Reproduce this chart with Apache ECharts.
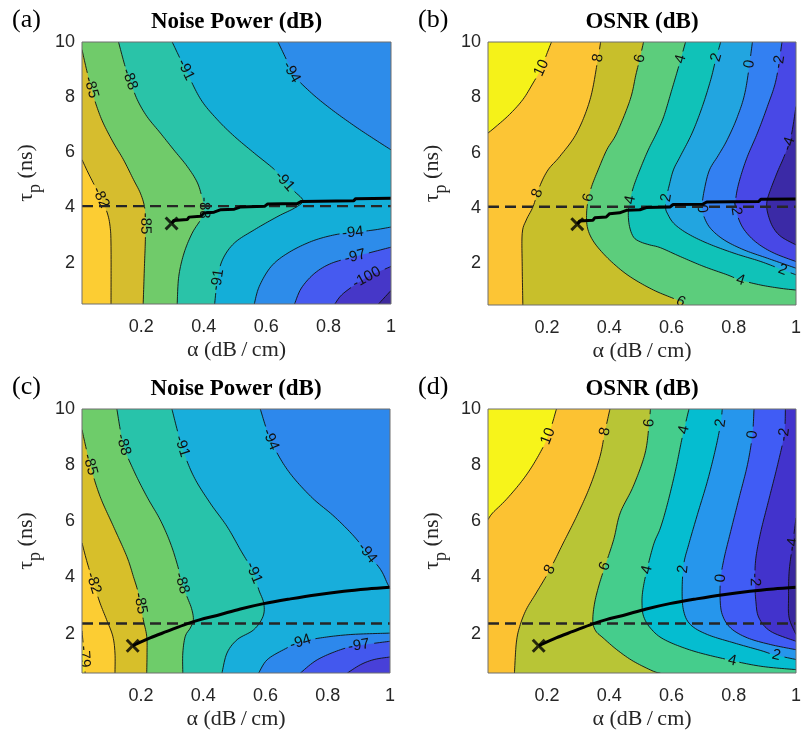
<!DOCTYPE html>
<html><head><meta charset="utf-8">
<script src="https://cdn.jsdelivr.net/npm/echarts@6/dist/echarts.min.js"></script>
<style>html,body{margin:0;padding:0;background:#fff}#c{width:805px;height:739px}</style>
</head><body><div id="c"></div>
<script>
// ---------------- axes ----------------
const alphaRange = [0.01, 1];
const alphaTicks = [0.2, 0.4, 0.6, 0.8, 1];
const tauTicks = [2, 4, 6, 8, 10];
const tauRangeAB = [0.5, 10];
const tauRangeCD = [0.6, 10];

// ---------------- (a) Noise Power (dB) : contour lines [alpha, tau] ----------------
const levelsA = [-103, -100, -97, -94, -91, -88, -85, -82];
const a_m103 = [[0.960,0.5],[0.982,0.77],[1.0,0.99]];
const a_m100 = [[0.820,0.5],[0.842,0.83],[0.885,1.20],[0.928,1.50],[0.971,1.72],[1.0,1.86]];
const a_m97 = [[0.691,0.5],[0.713,1.08],[0.756,1.62],[0.810,1.98],[0.885,2.22],[0.949,2.41],[1.0,2.56]];
const a_m94_up = [[0.638,10],[0.670,9.24],[0.686,8.82],[0.745,8.15],[0.810,7.55],[0.885,6.94],[0.949,6.46],[1.0,6.09]];
const a_m94_lo = [[1.0,3.29],[0.949,3.19],[0.885,3.10],[0.820,3.01],[0.745,2.77],[0.670,2.35],[0.616,1.86],[0.578,1.14],[0.562,0.5]];
const a_m91 = [[0.299,10],[0.326,9.36],[0.347,8.88],[0.391,7.91],[0.444,7.18],[0.498,6.58],[0.562,5.97],[0.627,5.37],[0.659,4.95],[0.691,4.58],[0.718,4.24],[0.691,3.98],[0.638,3.68],[0.562,3.19],[0.498,2.71],[0.460,2.10],[0.444,1.38],[0.435,0.5]];
const a_m88 = [[0.127,10],[0.148,9.12],[0.165,8.57],[0.187,7.91],[0.218,7.30],[0.261,6.70],[0.304,6.09],[0.347,5.49],[0.380,4.89],[0.396,4.28],[0.401,3.92],[0.390,3.56],[0.363,3.07],[0.337,2.35],[0.320,1.50],[0.315,0.5]];
const a_m85 = [[0.01,9.72],[0.027,8.88],[0.041,8.27],[0.057,7.67],[0.078,7.06],[0.111,6.34],[0.143,5.73],[0.175,5.01],[0.197,4.52],[0.210,4.04],[0.213,3.56],[0.213,2.83],[0.210,1.86],[0.206,0.5]];
const a_m82 = [[0.01,5.73],[0.030,5.25],[0.052,4.76],[0.073,4.28],[0.091,3.80],[0.100,3.31],[0.103,2.59],[0.103,0.5]];
const labelsA = [[0.035,8.33,'-85'],[0.159,8.63,'-88'],[0.342,9.0,'-91'],[0.681,8.88,'-94'],[0.052,4.28,'-82'],[0.213,3.40,'-85'],[0.398,3.98,'-88'],[0.654,4.85,'-91'],[0.880,3.05,'-94'],[0.885,2.20,'-97'],[0.92,1.52,'-100'],[0.449,1.38,'-91']];

// ---------------- (b) OSNR (dB) ----------------
const levelsB = [-4, -2, 0, 2, 4, 6, 8, 10];
const b_m4 = [[1.0,7.67],[0.984,6.59],[0.962,5.87],[0.940,5.30],[0.914,4.54],[0.906,4.18],[0.909,3.82],[0.925,3.33],[0.952,2.97],[1.0,2.67]];
const b_m2 = [[0.955,10],[0.936,8.64],[0.908,7.67],[0.876,6.71],[0.844,5.87],[0.822,5.14],[0.809,4.54],[0.806,4.06],[0.817,3.57],[0.838,3.15],[0.876,2.73],[0.930,2.37],[1.0,2.07]];
const b_0 = [[0.860,10],[0.838,8.28],[0.812,7.31],[0.779,6.47],[0.750,5.90],[0.722,5.38],[0.706,4.70],[0.698,4.06],[0.704,3.70],[0.725,3.27],[0.769,2.85],[0.833,2.49],[0.908,2.19],[1.0,1.83]];
const b_2 = [[0.758,10],[0.742,9.36],[0.726,8.64],[0.699,7.67],[0.666,6.71],[0.628,5.87],[0.606,5.38],[0.592,4.8],[0.582,4.30],[0.581,4.0],[0.586,3.82],[0.607,3.45],[0.650,3.09],[0.715,2.73],[0.801,2.37],[0.887,2.07],[0.957,1.77],[1.0,1.59]];
const b_4 = [[0.645,10],[0.623,9.12],[0.601,8.28],[0.575,7.31],[0.552,6.71],[0.525,6.1],[0.498,5.38],[0.478,4.78],[0.467,4.30],[0.461,3.82],[0.465,3.33],[0.478,2.95],[0.500,2.78],[0.530,2.67],[0.564,2.57],[0.628,2.25],[0.704,1.89],[0.779,1.59],[0.822,1.40],[0.887,1.22],[0.952,1.10],[1.0,1.04]];
const b_6 = [[0.510,10],[0.498,9.4],[0.485,8.8],[0.467,7.92],[0.424,6.71],[0.392,6.11],[0.364,5.38],[0.343,4.78],[0.332,4.30],[0.327,3.82],[0.329,3.33],[0.343,2.91],[0.370,2.49],[0.413,2.0],[0.467,1.52],[0.542,1.04],[0.618,0.68],[0.645,0.5]];
const b_8 = [[0.372,10],[0.362,9.3],[0.338,7.92],[0.295,6.71],[0.241,5.87],[0.203,5.38],[0.176,4.78],[0.155,4.06],[0.133,3.57],[0.120,3.09],[0.120,1.89],[0.122,0.5]];
const b_10 = [[0.214,10],[0.198,9.54],[0.182,9.06],[0.155,8.52],[0.122,7.92],[0.079,7.38],[0.036,6.95],[0.01,6.71]];
const labelsB = [[0.187,9.06,'10'],[0.370,9.42,'8'],[0.505,9.36,'6'],[0.628,9.36,'4'],[0.742,9.48,'2'],[0.848,9.2,'0'],[0.948,9.3,'-2'],[0.978,6.35,'-4'],[0.168,4.54,'8'],[0.334,4.35,'6'],[0.465,4.30,'4'],[0.582,4.36,'2'],[0.700,4.0,'0'],[0.808,3.94,'-2'],[0.955,1.72,'2'],[0.822,1.38,'4'],[0.625,0.62,'6']];

// ---------------- (c) Noise Power (dB) ----------------
const levelsC = [-100, -97, -94, -91, -88, -85, -82, -79];
const c_m100 = [[0.863,0.6],[0.906,0.90],[0.949,1.08],[1.0,1.17]];
const c_m97 = [[0.712,0.6],[0.766,1.07],[0.841,1.43],[0.900,1.58],[1.0,1.73]];
const c_m94_up = [[0.583,10],[0.616,8.91],[0.670,7.84],[0.745,6.89],[0.820,6.18],[0.884,5.47],[0.927,4.87],[0.970,4.28],[0.991,3.80],[1.0,3.62]];
const c_m94_lo = [[1.0,2.02],[0.874,1.97],[0.777,1.85],[0.712,1.70],[0.658,1.43],[0.605,1.07],[0.578,0.6]];
const c_m91 = [[0.299,10],[0.331,8.67],[0.369,7.60],[0.422,6.65],[0.476,5.82],[0.519,4.99],[0.562,4.16],[0.578,3.57],[0.594,3.09],[0.592,2.62],[0.562,2.14],[0.509,1.79],[0.476,1.31],[0.460,0.6]];
const c_m88 = [[0.122,10],[0.143,8.73],[0.175,7.84],[0.218,6.89],[0.261,6.06],[0.294,5.23],[0.318,4.4],[0.331,3.80],[0.347,3.33],[0.362,2.90],[0.368,2.50],[0.358,2.20],[0.342,1.91],[0.334,1.31],[0.334,0.6]];
const c_m85 = [[0.01,9.26],[0.036,8.02],[0.068,6.89],[0.111,5.82],[0.154,4.75],[0.175,4.04],[0.192,3.4],[0.207,2.50],[0.218,1.91],[0.219,1.25],[0.218,0.6]];
const c_m82 = [[0.01,5.23],[0.027,4.52],[0.047,3.80],[0.068,3.09],[0.089,2.50],[0.109,1.91],[0.116,1.31],[0.116,0.6]];
const c_m79 = [[0.01,2.1],[0.014,1.6],[0.018,1.1],[0.02,0.6]];
const labelsC = [[0.036,8.02,'-85'],[0.143,8.73,'-88'],[0.331,8.67,'-91'],[0.616,8.91,'-94'],[0.047,3.80,'-82'],[0.197,3.09,'-85'],[0.331,3.80,'-88'],[0.562,4.16,'-91'],[0.927,4.87,'-94'],[0.712,1.70,'-94'],[0.900,1.58,'-97'],[0.016,1.2,'-79']];

// ---------------- (d) OSNR (dB) ----------------
const levelsD = [-4, -2, 0, 2, 4, 6, 8, 10];
const d_m4 = [[1.0,6.12],[0.989,5.17],[0.978,4.22],[0.976,3.27],[0.978,2.56],[1.0,1.97]];
const d_m2 = [[0.966,10],[0.962,9.09],[0.941,8.02],[0.914,6.83],[0.887,5.64],[0.871,4.69],[0.868,3.92],[0.871,3.15],[0.881,2.56],[0.919,2.08],[1.0,1.73]];
const d_0 = [[0.865,10],[0.860,9.09],[0.844,8.02],[0.817,6.83],[0.790,5.64],[0.769,4.69],[0.758,3.98],[0.756,3.27],[0.763,2.68],[0.790,2.20],[0.844,1.85],[0.919,1.61],[1.0,1.43]];
const d_2 = [[0.763,10],[0.758,9.5],[0.742,8.61],[0.715,7.42],[0.683,6.24],[0.655,5.17],[0.639,4.46],[0.634,3.51],[0.639,2.80],[0.661,2.32],[0.715,1.97],[0.801,1.67],[0.887,1.40],[0.930,1.25],[1.0,1.08]];
const d_4 = [[0.656,10],[0.634,8.97],[0.612,7.78],[0.586,6.59],[0.564,5.76],[0.543,5.2],[0.521,4.28],[0.508,3.57],[0.505,3.09],[0.510,2.62],[0.532,2.20],[0.575,1.80],[0.665,1.40],[0.779,1.08],[0.887,0.84],[1.0,0.72]];
const d_6 = [[0.532,10],[0.528,9.5],[0.515,8.43],[0.477,7.25],[0.435,6.30],[0.414,5.35],[0.386,4.40],[0.366,3.70],[0.352,3.05],[0.347,2.45],[0.356,2.10],[0.380,1.85],[0.424,1.43],[0.477,1.02],[0.542,0.66],[0.564,0.6]];
const d_8 = [[0.402,10],[0.386,9.20],[0.370,8.31],[0.338,7.25],[0.295,6.18],[0.252,5.23],[0.209,4.28],[0.165,3.45],[0.133,2.86],[0.112,2.26],[0.101,1.67],[0.095,0.6]];
const d_10 = [[0.230,10],[0.203,9.03],[0.165,8.20],[0.122,7.48],[0.068,6.77],[0.025,6.30],[0.01,6.06]];
const labelsD = [[0.203,9.03,'10'],[0.386,9.20,'8'],[0.528,9.5,'6'],[0.645,9.26,'4'],[0.758,9.5,'2'],[0.860,9.1,'0'],[0.962,9.1,'-2'],[0.99,5.2,'-4'],[0.209,4.28,'8'],[0.386,4.40,'6'],[0.521,4.28,'4'],[0.639,4.28,'2'],[0.758,3.98,'0'],[0.869,3.92,'-2'],[0.795,1.0,'4'],[0.935,1.22,'2']];

// ---------------- optimum paths, markers, reference lines ----------------
const optPathAB = [[0.297,3.42],[0.304,3.53],[0.347,3.56],[0.353,3.65],[0.390,3.68],[0.401,3.80],[0.433,3.83],[0.455,3.92],[0.498,3.94],[0.519,4.02],[0.595,4.04],[0.605,4.13],[0.700,4.14],[0.713,4.22],[0.880,4.24],[0.887,4.32],[1.0,4.33]];
const optPathCD = [[0.173,1.57],[0.229,1.85],[0.283,2.08],[0.347,2.35],[0.390,2.50],[0.444,2.65],[0.519,2.88],[0.594,3.07],[0.680,3.24],[0.766,3.39],[0.852,3.51],[0.927,3.59],[1.0,3.65]];
const markerAB = [0.297, 3.42];
const markerCD = [0.173, 1.57];
const dashTauAB = 4.05;
const dashTauCD = 2.36;

// ---------------- styling (kept apart from data) ----------------
const COLORS_A = ['#3e2a9e','#4637c8','#465af0','#2d8cea','#14aed8','#2ac3a8','#70cb6a','#d6bd2e','#fccd33'];
const COLORS_B = ['#3b2aa6','#4848e6','#3380f2','#22a5e0','#10c2b8','#5ccd7c','#c8bf2b','#fcc535','#f5f219'];
const COLORS_C = ['#4840d8','#4358ee','#2d88ec','#18aedb','#28c3aa','#6ecc6a','#d7bf2a','#fccd33','#f6e52a'];
const COLORS_D = ['#38279e','#4233cc','#405cf5','#2696ec','#05bdd0','#45cd8c','#b8c536','#fcc232','#f7f41a'];
const SANS = '"Liberation Sans", Arial, sans-serif';
const SERIF = '"Liberation Serif", "Times New Roman", serif';

const panels = [
  {tau: tauRangeAB, levels: levelsA, contours: [[a_m103],[a_m100],[a_m97],[a_m94_up,a_m94_lo],[a_m91],[a_m88],[a_m85],[a_m82]], labels: labelsA, colors: COLORS_A, peak: [0.03,0.6], path: optPathAB, smooth: false, marker: markerAB, dash: dashTauAB, title: 'Noise Power (dB)', tag: '(a)'},
  {tau: tauRangeAB, levels: levelsB, contours: [[b_m4],[b_m2],[b_0],[b_2],[b_4],[b_6],[b_8],[b_10]], labels: labelsB, colors: COLORS_B, peak: [0.02,9.9], path: optPathAB, smooth: false, marker: markerAB, dash: dashTauAB, title: 'OSNR (dB)', tag: '(b)'},
  {tau: tauRangeCD, levels: levelsC, contours: [[c_m100],[c_m97],[c_m94_up,c_m94_lo],[c_m91],[c_m88],[c_m85],[c_m82],[c_m79]], labels: labelsC, colors: COLORS_C, peak: [0.012,0.65], path: optPathCD, smooth: 0.35, marker: markerCD, dash: dashTauCD, title: 'Noise Power (dB)', tag: '(c)'},
  {tau: tauRangeCD, levels: levelsD, contours: [[d_m4],[d_m2],[d_0],[d_2],[d_4],[d_6],[d_8],[d_10]], labels: labelsD, colors: COLORS_D, peak: [0.02,9.9], path: optPathCD, smooth: 0.35, marker: markerCD, dash: dashTauCD, title: 'OSNR (dB)', tag: '(d)'}
];
const grids = [
  {left: 82, top: 42, width: 309, height: 262},
  {left: 488, top: 42, width: 308, height: 263},
  {left: 82, top: 409, width: 308, height: 264},
  {left: 488, top: 409, width: 308, height: 264}
];

// ---------------- helpers ----------------
function densify(P) {
  if (P.length < 3) return P.map(p => p.slice());
  const out = [], n = P.length;
  for (let i = 0; i < n - 1; i++) {
    const p0 = P[Math.max(i-1,0)], p1 = P[i], p2 = P[i+1], p3 = P[Math.min(i+2,n-1)];
    const len = Math.hypot(p2[0]-p1[0], p2[1]-p1[1]);
    const m = Math.max(2, Math.ceil(len / 2.5));
    for (let s = 0; s < m; s++) {
      const t = s / m, t2 = t*t, t3 = t2*t;
      out.push([0,1].map(j => 0.5*((2*p1[j]) + (-p0[j]+p2[j])*t + (2*p0[j]-5*p1[j]+4*p2[j]-p3[j])*t2 + (-p0[j]+3*p1[j]-3*p2[j]+p3[j])*t3)));
    }
  }
  out.push(P[n-1].slice());
  return out;
}
function perim(p, b) {
  const W = b.x1 - b.x0, H = b.y1 - b.y0;
  const d = [Math.abs(p[1]-b.y0)/H, Math.abs(p[0]-b.x1)/W, Math.abs(p[1]-b.y1)/H, Math.abs(p[0]-b.x0)/W];
  const m = Math.min.apply(null, d);
  if (m === d[0]) return (p[0]-b.x0)/W;
  if (m === d[1]) return 1 + (p[1]-b.y0)/H;
  if (m === d[2]) return 2 + (b.x1-p[0])/W;
  return 3 + (b.y1-p[1])/H;
}
function walk(sa, sb, dir) {
  const out = [];
  if (dir > 0) { let t = sb; if (t <= sa) t += 4; for (let c = Math.floor(sa)+1; c < t; c++) out.push(c % 4); }
  else { let t = sb; if (t >= sa) t -= 4; for (let c = Math.ceil(sa)-1; c > t; c--) out.push(((c % 4)+4) % 4); }
  return out;
}
function inside(pt, poly) {
  let c = false;
  for (let i = 0, j = poly.length-1; i < poly.length; j = i++) {
    const xi = poly[i][0], yi = poly[i][1], xj = poly[j][0], yj = poly[j][1];
    if (((yi > pt[1]) !== (yj > pt[1])) && (pt[0] < (xj-xi)*(pt[1]-yi)/(yj-yi) + xi)) c = !c;
  }
  return c;
}
const LABEL_PX = 15;
function textWidth(s) { let w = 0; for (const ch of s) w += (ch === '-' ? 0.333 : 0.556) * LABEL_PX; return w; }

function makeRender(P) {
  return function (params, api) {
    const b = {x0: alphaRange[0], x1: alphaRange[1], y0: P.tau[0], y1: P.tau[1]};
    const corners = [[b.x0,b.y0],[b.x1,b.y0],[b.x1,b.y1],[b.x0,b.y1]];
    const px = d => api.coord(d);
    const kids = [];
    kids.push({type: 'polygon', shape: {points: corners.map(px)}, style: {fill: P.colors[0]}});
    const dense = P.contours.map(segs => segs.map(s => densify(s.map(px))));
    P.contours.forEach((segs, k) => {
      const raw = [].concat(...segs);
      const sEnd = perim(raw[raw.length-1], b), sStart = perim(raw[0], b);
      let cs = walk(sEnd, sStart, -1);
      if (!inside(P.peak, raw.concat(cs.map(c => corners[c])))) cs = walk(sEnd, sStart, 1);
      const pts = [].concat(...dense[k], cs.map(c => px(corners[c])));
      kids.push({type: 'polygon', shape: {points: pts}, style: {fill: P.colors[k+1]}});
    });
    const gaps = P.contours.map(() => []);
    const texts = [];
    P.labels.forEach(([a, t, txt]) => {
      const k = P.levels.indexOf(Number(txt));
      if (k < 0) return;
      const c0 = px([a, t]);
      let best = null, bd = Infinity;
      dense[k].forEach((seg, si) => seg.forEach((q, qi) => {
        const d = (q[0]-c0[0])**2 + (q[1]-c0[1])**2;
        if (d < bd) { bd = d; best = [si, qi]; }
      }));
      const seg = dense[k][best[0]], i = best[1];
      const q1 = seg[Math.max(0, i-4)], q2 = seg[Math.min(seg.length-1, i+4)];
      let dx = q2[0]-q1[0], dy = q2[1]-q1[1];
      const L = Math.hypot(dx, dy) || 1; dx /= L; dy /= L;
      const c = seg[i];
      let ang = Math.atan2(-dy, dx);
      if (ang > Math.PI/2) ang -= Math.PI;
      if (ang <= -Math.PI/2) ang += Math.PI;
      const w = textWidth(txt);
      gaps[k].push({c: c, u: [dx, dy], h: w/2 + 2.5});
      texts.push({type: 'text', x: c[0], y: c[1], rotation: ang,
        style: {text: txt, fill: '#111', font: LABEL_PX + 'px ' + SANS, align: 'center', verticalAlign: 'middle', textAlign: 'center', textVerticalAlign: 'middle'}});
    });
    dense.forEach((segs, k) => segs.forEach(seg => {
      let run = [];
      const flush = () => { if (run.length > 1) kids.push({type: 'polyline', shape: {points: run}, style: {stroke: '#111', lineWidth: 0.9, fill: 'none'}}); run = []; };
      seg.forEach(q => {
        const hid = gaps[k].some(g => {
          const vx = q[0]-g.c[0], vy = q[1]-g.c[1];
          return Math.abs(vx*g.u[0] + vy*g.u[1]) < g.h && Math.abs(vx*g.u[1] - vy*g.u[0]) < 8;
        });
        if (hid) flush(); else run.push(q);
      });
      flush();
    }));
    kids.push(...texts);
    return {type: 'group', children: kids};
  };
}

// ---------------- option ----------------
const xAxes = [], yAxes = [], series = [], graphic = [];
panels.forEach((P, i) => {
  xAxes.push({gridIndex: i, type: 'value', min: alphaRange[0], max: alphaRange[1],
    name: 'α (dB\u2009/\u2009cm)', nameLocation: 'middle', nameGap: 35,
    nameTextStyle: {fontFamily: SERIF, fontSize: 22, color: '#262626'},
    axisLine: {show: false}, axisTick: {show: false}, splitLine: {show: false},
    axisLabel: {customValues: alphaTicks, showMaxLabel: true, showMinLabel: true, formatter: v => String(v), fontFamily: SANS, fontSize: 18, color: '#262626', margin: 14}});
  yAxes.push({gridIndex: i, type: 'value', min: P.tau[0], max: P.tau[1],
    name: '{t|τ}{s|p}{t| (ns)}', nameLocation: 'middle', nameGap: 38,
    nameTextStyle: {rich: {
      t: {fontFamily: SERIF, fontSize: 22, color: '#262626', lineHeight: 36, verticalAlign: 'middle'},
      s: {fontFamily: SERIF, fontSize: 18, color: '#262626', lineHeight: 18, verticalAlign: 'bottom'}}},
    axisLine: {show: false}, axisTick: {show: false}, splitLine: {show: false},
    axisLabel: {customValues: tauTicks, showMaxLabel: true, formatter: v => String(v), fontFamily: SANS, fontSize: 18, color: '#262626', margin: 7}});
  series.push({type: 'custom', xAxisIndex: i, yAxisIndex: i, coordinateSystem: 'cartesian2d',
    data: [[0.5, 5]], renderItem: makeRender(P), clip: true, silent: true, z: 1});
  series.push({type: 'line', xAxisIndex: i, yAxisIndex: i, data: [[alphaRange[0], P.dash], [alphaRange[1], P.dash]],
    showSymbol: false, silent: true, lineStyle: {color: '#262626', width: 2.4, type: [11, 6]}, z: 3});
  series.push({type: 'line', xAxisIndex: i, yAxisIndex: i, data: P.path, showSymbol: false, silent: true,
    smooth: P.smooth, lineStyle: {color: '#000', width: 3}, z: 4});
  series.push({type: 'scatter', xAxisIndex: i, yAxisIndex: i, data: [P.marker], silent: true,
    symbol: 'path://M0,1.5L1.5,0L5,3.5L8.5,0L10,1.5L6.5,5L10,8.5L8.5,10L5,6.5L1.5,10L0,8.5L3.5,5Z',
    symbolSize: 14, itemStyle: {color: '#000'}, z: 5});
  const g = grids[i];
  graphic.push({type: 'text', x: g.left + g.width/2, y: g.top - 20,
    style: {text: P.title, font: 'bold 23px ' + SERIF, fill: '#000', align: 'center', verticalAlign: 'middle', textAlign: 'center', textVerticalAlign: 'middle'}});
  graphic.push({type: 'text', x: g.left - 70, y: g.top - 22,
    style: {text: P.tag, font: '26px ' + SERIF, fill: '#000', align: 'left', verticalAlign: 'middle', textAlign: 'left', textVerticalAlign: 'middle'}});
});

const chart = echarts.init(document.getElementById('c'), null, {renderer: 'canvas'});
chart.setOption({
  animation: false,
  backgroundColor: '#fff',
  grid: grids.map(g => Object.assign({show: true, borderColor: '#6e6e6e', borderWidth: 1, backgroundColor: 'transparent', z: 6}, g)),
  xAxis: xAxes,
  yAxis: yAxes,
  series: series,
  graphic: graphic
});
</script></body></html>
